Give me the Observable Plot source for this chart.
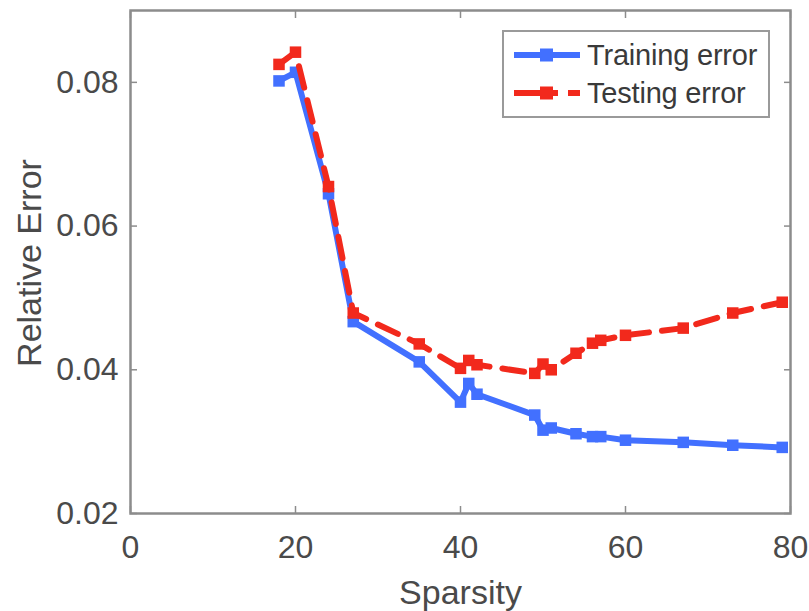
<!DOCTYPE html>
<html>
<head>
<meta charset="utf-8">
<script src="https://cdn.jsdelivr.net/npm/d3@7"></script>
<script src="https://cdn.jsdelivr.net/npm/@observablehq/plot@0.6"></script>
<style>
  html, body { margin: 0; padding: 0; background: #fff; }
  #wrap { position: relative; width: 809px; height: 611px; font-family: "Liberation Sans", Arial, Helvetica, sans-serif; }
  #legend { position: absolute; left: 502px; top: 30px; width: 264px; height: 84px; border: 2px solid #9a9a9a; background: #fff; box-sizing: content-box; }
  .row { position: absolute; left: 0; height: 30px; display: flex; align-items: center; }
  .row span { font-size: 29px; color: #3a3a3a; margin-left: 5px; letter-spacing: -0.2px; }
</style>
</head>
<body>
<div id="wrap"></div>
<script>
const sparsity      = [18, 20, 24, 27, 35, 40, 41, 42, 49, 50, 51, 54, 56, 57, 60, 67, 73, 79];
const trainingError = [0.0802, 0.0814, 0.0645, 0.0467, 0.0411, 0.0355, 0.0381, 0.0366, 0.0337, 0.0316, 0.0319, 0.0311, 0.0307, 0.0307, 0.0302, 0.0299, 0.0295, 0.0292];
const testingError  = [0.0825, 0.0842, 0.0655, 0.0479, 0.0436, 0.0402, 0.0413, 0.0407, 0.0395, 0.0408, 0.0400, 0.0423, 0.0437, 0.0441, 0.0448, 0.0458, 0.0479, 0.0494];
const seriesNames   = ["Training error", "Testing error"];
const seriesColors  = ["#4270ff", "#f2291c"];
const xTicks = [0, 20, 40, 60, 80];
const yTicks = [0.02, 0.04, 0.06, 0.08];

const train = sparsity.map((s, i) => ({s, e: trainingError[i]}));
const test  = sparsity.map((s, i) => ({s, e: testingError[i]}));

const font = "'Liberation Sans', Arial, Helvetica, sans-serif";
const axisGray = "#8c8c8c";
const textGray = "#4a4a4a";

const chart = Plot.plot({
  width: 809,
  height: 611,
  marginLeft: 130,
  marginRight: 19,
  marginTop: 10,
  marginBottom: 98,
  x: {domain: [0, 80]},
  y: {domain: [0.02, 0.09]},
  style: {fontFamily: font, background: "#fff", color: textGray},
  marks: [
    Plot.frame({stroke: axisGray, strokeWidth: 2.5}),
    Plot.axisX(xTicks, {anchor: "bottom", tickSize: -7, tickPadding: 29, fontSize: 32, stroke: axisGray, strokeWidth: 1.5, fill: textGray, label: null, tickFormat: d => String(d)}),
    Plot.axisX(xTicks, {anchor: "top", tickSize: -7, stroke: axisGray, strokeWidth: 1.5, label: null, tickFormat: () => ""}),
    Plot.axisY(yTicks, {anchor: "left", tickSize: -7, tickPadding: 19, fontSize: 32, stroke: axisGray, strokeWidth: 1.5, fill: textGray, label: null, tickFormat: d => d.toFixed(2)}),
    Plot.axisY(yTicks, {anchor: "right", tickSize: -7, stroke: axisGray, strokeWidth: 1.5, label: null, tickFormat: () => ""}),
    Plot.text(["Sparsity"], {frameAnchor: "bottom", dy: 80, fontSize: 34, fill: textGray, lineAnchor: "middle", textAnchor: "middle"}),
    Plot.text(["Relative Error"], {frameAnchor: "left", dx: -100, dy: 1, rotate: -90, fontSize: 34, fill: textGray, lineAnchor: "middle", textAnchor: "middle"}),
    Plot.line(train, {x: "s", y: "e", stroke: seriesColors[0], strokeWidth: 6}),
    Plot.dot(train, {x: "s", y: "e", symbol: "square", r: 6.5, fill: seriesColors[0], stroke: "none"}),
    Plot.line(test, {x: "s", y: "e", stroke: seriesColors[1], strokeWidth: 6, strokeDasharray: "22,13"}),
    Plot.dot(test, {x: "s", y: "e", symbol: "square", r: 6.5, fill: seriesColors[1], stroke: "none"})
  ]
});

const wrap = document.getElementById("wrap");
wrap.appendChild(chart);

// legend
const legend = document.createElement("div");
legend.id = "legend";
const rowTops = [8, 46];
seriesNames.forEach((name, i) => {
  const row = document.createElement("div");
  row.className = "row";
  row.style.top = rowTops[i] + "px";
  row.style.left = "8px";
  const dash = i === 1 ? ' stroke-dasharray="44,10,14,40"' : "";
  row.innerHTML = `<svg width="70" height="30"><line x1="2" y1="15" x2="68" y2="15" stroke="${seriesColors[i]}" stroke-width="6"${dash}/><rect x="28" y="8.5" width="13" height="13" fill="${seriesColors[i]}"/></svg><span>${name}</span>`;
  legend.appendChild(row);
});
wrap.appendChild(legend);
</script>
</body>
</html>
